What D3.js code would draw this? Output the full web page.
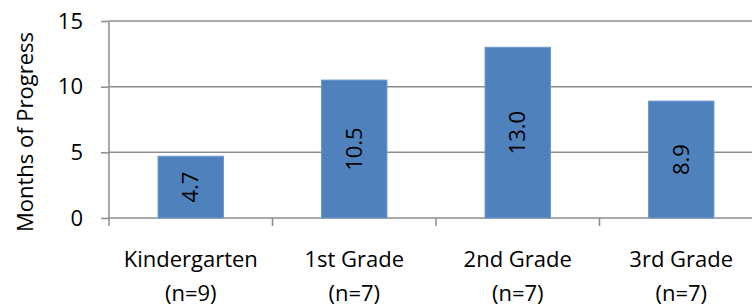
<!DOCTYPE html>
<html>
<head>
<meta charset="utf-8">
<script src="https://cdn.jsdelivr.net/npm/d3@7"></script>
<style>
  body { margin: 0; background: #fff; }
  svg text { font-family: "Open Sans", "Noto Sans", sans-serif; fill: #000; }
</style>
</head>
<body>
<div id="chart"></div>
<script>
var grades = ['Kindergarten', '1st Grade', '2nd Grade', '3rd Grade'];
var counts = ['(n=9)', '(n=7)', '(n=7)', '(n=7)'];
var progress = [4.7, 10.5, 13.0, 8.9];
var yTicks = [0, 5, 10, 15];

var width = 752;
var height = 308;
var margins = { top: 21, right: -11, bottom: 90, left: 109 };
var fontSize = '22px';

var chartWidth = width - margins.left - margins.right;
var chartHeight = height - margins.top - margins.bottom;

var svg = d3.select('#chart')
  .append('svg')
  .attr('width', width)
  .attr('height', height);

var chartElement = svg.append('g')
  .attr('transform', `translate(${margins.left},${margins.top})`);

var x = d3.scaleBand()
  .domain(grades)
  .range([0, chartWidth])
  .paddingInner(0.6)
  .paddingOuter(0.3);

var y = d3.scaleLinear()
  .domain([0, 15])
  .range([chartHeight, 0]);

var gridColor = '#8c8c8c';

// gridlines
chartElement.selectAll('.grid')
  .data(yTicks)
  .enter()
  .append('line')
  .attr('x1', 0)
  .attr('x2', chartWidth)
  .attr('y1', d => y(d))
  .attr('y2', d => y(d))
  .attr('stroke', gridColor)
  .attr('stroke-width', 1.5);

// y axis
var yAxis = d3.axisLeft(y)
  .tickValues(yTicks)
  .tickSize(8)
  .tickPadding(18);

var yAxisG = chartElement.append('g').call(yAxis);
yAxisG.selectAll('path, line').attr('stroke', gridColor).attr('stroke-width', 1.5);
yAxisG.select('.domain').attr('d', `M0,${chartHeight}V0`);
yAxisG.selectAll('text')
  .style('font-size', fontSize)
  .style('font-family', '"Open Sans", sans-serif')
  .attr('fill', '#000');

// x axis: ticks at the category boundaries
var boundaries = d3.range(grades.length + 1).map(i => i * chartWidth / grades.length);

chartElement.append('g')
  .selectAll('line')
  .data(boundaries)
  .enter()
  .append('line')
  .attr('x1', d => d)
  .attr('x2', d => d)
  .attr('y1', chartHeight)
  .attr('y2', chartHeight + 8)
  .attr('stroke', gridColor)
  .attr('stroke-width', 1.5);

// bars
chartElement.selectAll('.bar')
  .data(progress)
  .enter()
  .append('rect')
  .attr('class', 'bar')
  .attr('x', (d, i) => x(grades[i]))
  .attr('width', x.bandwidth())
  .attr('y', d => y(d))
  .attr('height', d => chartHeight - y(d))
  .attr('fill', '#4f81bd')
  .attr('stroke', '#6e98cc')
  .attr('stroke-width', 1);

// value labels, rotated inside bars
chartElement.selectAll('.value')
  .data(progress)
  .enter()
  .append('text')
  .attr('class', 'value')
  .attr('transform', (d, i) => {
    var cx = x(grades[i]) + x.bandwidth() / 2;
    var cy = (y(d) + chartHeight) / 2;
    return `translate(${cx},${cy}) rotate(-90)`;
  })
  .attr('text-anchor', 'middle')
  .attr('dy', '0.35em')
  .style('font-size', fontSize)
  .text(d => d.toFixed(1));

// category labels
var labels = chartElement.selectAll('.cat')
  .data(grades)
  .enter()
  .append('text')
  .attr('class', 'cat')
  .attr('text-anchor', 'middle')
  .style('font-size', fontSize);

labels.append('tspan')
  .attr('x', d => x(d) + x.bandwidth() / 2)
  .attr('y', chartHeight + 49)
  .text(d => d);

labels.append('tspan')
  .attr('x', d => x(d) + x.bandwidth() / 2)
  .attr('y', chartHeight + 83)
  .text((d, i) => counts[i]);

// y axis title
svg.append('text')
  .attr('transform', 'translate(33,132) rotate(-90)')
  .attr('text-anchor', 'middle')
  .style('font-size', fontSize)
  .text('Months of Progress');
</script>
</body>
</html>
